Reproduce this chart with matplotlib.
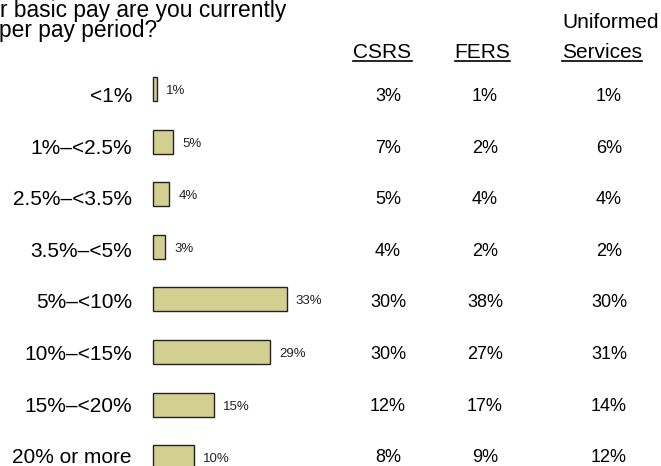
import matplotlib
matplotlib.use('Agg')
import matplotlib.pyplot as plt
from matplotlib.lines import Line2D

plt.rcParams['font.family'] = ['Liberation Sans', 'DejaVu Sans']

# Dados
categorias = ['<1%', '1%\u2013<2.5%', '2.5%\u2013<3.5%', '3.5%\u2013<5%',
              '5%\u2013<10%', '10%\u2013<15%', '15%\u2013<20%', '20% or more']
total = [1, 5, 4, 3, 33, 29, 15, 10]
csrs = [3, 7, 5, 4, 30, 30, 12, 8]
fers = [1, 2, 4, 2, 38, 27, 17, 9]
uniformed = [1, 6, 4, 2, 30, 31, 14, 12]

W, H = 661, 466
fig = plt.figure(figsize=(W / 100, H / 100), dpi=100)

# eixo das barras: 4.05 px por %, 52.6 px por linha
px_pct = 4.05
x0 = 153
ax = fig.add_axes([0, 0, 1, 1])
ax.set_xlim(-x0 / px_pct, (W - x0) / px_pct)
ax.set_ylim((H - 89) / 52.6, -89 / 52.6)
ax.axis('off')

# eixo da tabela de textos (linhas de base a cada 51.6 px)
axt = fig.add_axes([0, 0, 1, 1])
axt.set_xlim(0, W)
axt.set_ylim((H - 101) / 51.6, -101 / 51.6)
axt.axis('off')

rows = list(range(len(categorias)))
ax.barh(rows, total, height=24 / 52.6, color='#d3cf90', edgecolor='#222222', linewidth=1)

for i, v in zip(rows, total):
    ax.annotate(f'{v}%', xy=(v, i), xytext=(9, -5), textcoords='offset pixels',
                fontsize=9.5, va='baseline', ha='left', color='#222222')

for i, cat in zip(rows, categorias):
    axt.text(132, i + 1 / 51.6, cat, fontsize=15, ha='right', va='baseline')

colunas = [(388, csrs), (485, fers), (609, uniformed)]
for cx, vals in colunas:
    for i, v in zip(rows, vals):
        axt.text(cx, i, f'{v}%', fontsize=13, ha='center', va='baseline')

# Pergunta (cortada à esquerda e em cima)
fig.text(0 / W, 1 - 17 / H, 'r basic pay are you currently', fontsize=16.4, ha='left', va='baseline')
fig.text(-1 / W, 1 - 37 / H, 'per pay period?', fontsize=16.4, ha='left', va='baseline')

# Cabeçalhos
headers = []
headers.append(fig.text(382.5 / W, 1 - 58 / H, 'CSRS', fontsize=15, ha='center', va='baseline'))
headers.append(fig.text(482.5 / W, 1 - 58 / H, 'FERS', fontsize=15, ha='center', va='baseline'))
fig.text(562 / W, 1 - 28 / H, 'Uniformed', fontsize=15, ha='left', va='baseline')
headers.append(fig.text(562 / W, 1 - 58 / H, 'Services', fontsize=15, ha='left', va='baseline'))

fig.canvas.draw()
r = fig.canvas.get_renderer()
for t in headers:
    bb = t.get_window_extent(renderer=r)
    yl = (H - 61) / H
    fig.add_artist(Line2D([bb.x0 / W, bb.x1 / W], [yl, yl], color='black', linewidth=1.2,
                          transform=fig.transFigure))

fig.savefig('out.png', dpi=100)
